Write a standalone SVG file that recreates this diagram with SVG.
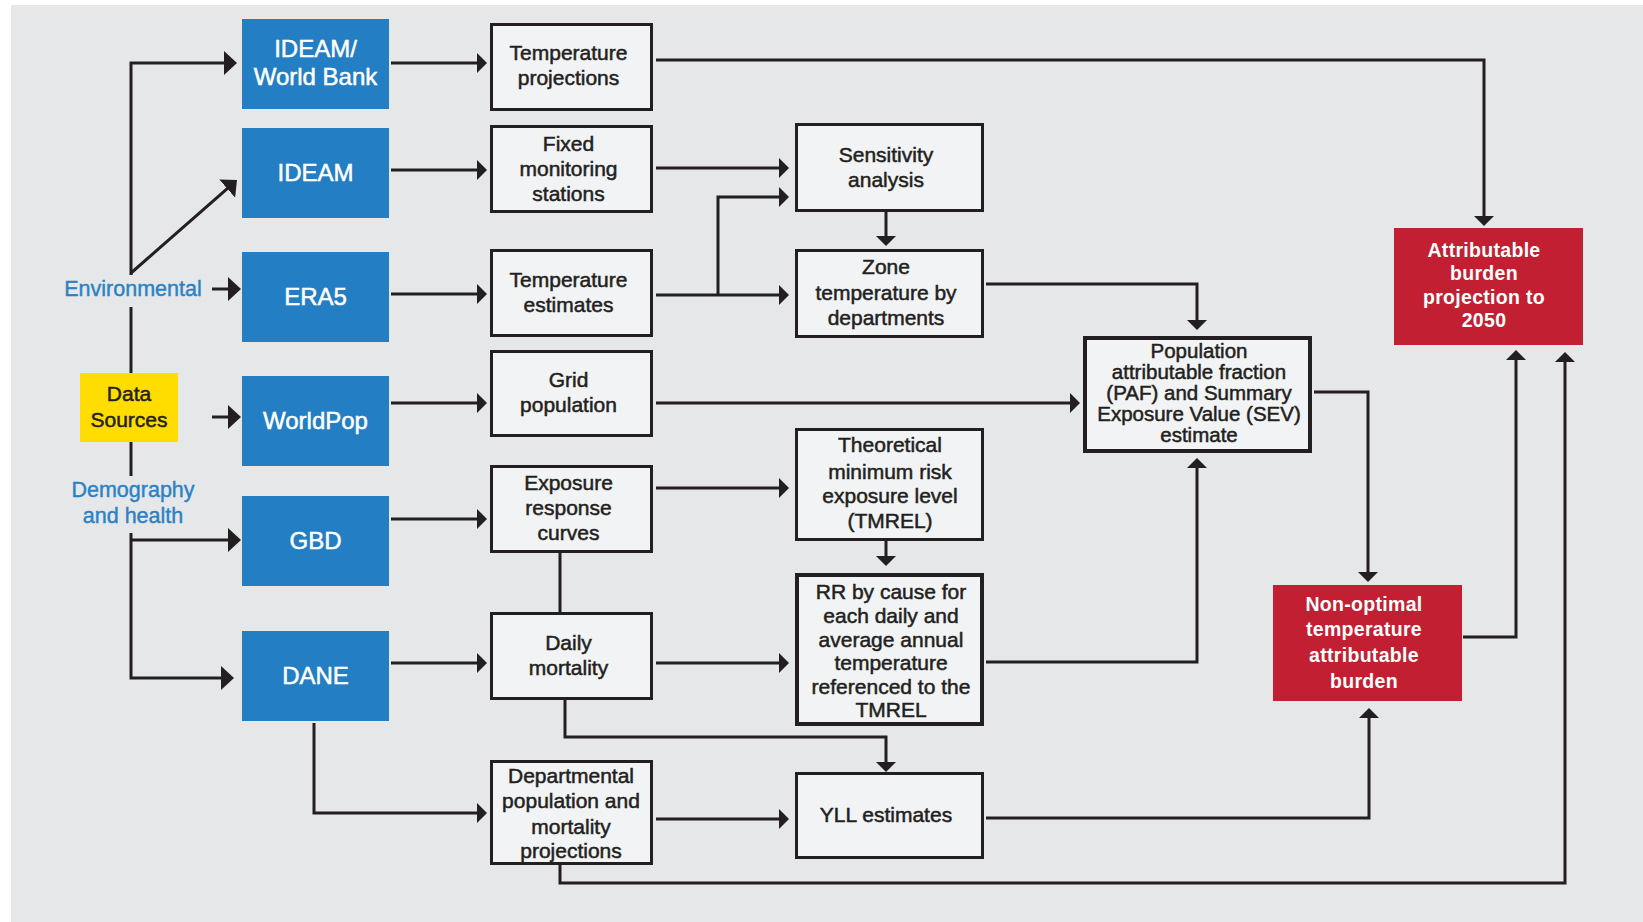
<svg xmlns="http://www.w3.org/2000/svg" width="1643" height="922" viewBox="0 0 1643 922">
<style>
.bg{fill:#e6e7e9}
.blue{fill:#237ec3}
.wbox{fill:#f2f3f5;stroke:#231f20;stroke-width:3}
.wbox4{fill:#f2f3f5;stroke:#231f20;stroke-width:4}
.red{fill:#c22032}
.yel{fill:#ffdd00}
.ln{fill:none;stroke:#231f20;stroke-width:3}
.lnb{fill:none;stroke:#231f20;stroke-width:3;marker-end:url(#big)}
.lnm{fill:none;stroke:#231f20;stroke-width:3;marker-end:url(#med)}
text{font-family:"Liberation Sans",Arial,sans-serif;text-anchor:middle}
.tw{fill:#ffffff;stroke:#ffffff;stroke-width:0.5px;font-size:24px}
.tk{fill:#231f20;stroke:#231f20;stroke-width:0.5px;font-size:21px}
.tp{fill:#231f20;stroke:#231f20;stroke-width:0.5px;font-size:20.5px}
.tr{fill:#ffffff;font-size:19.5px;font-weight:bold;letter-spacing:0.3px}
.tb{fill:#2a82c5;stroke:#2a82c5;stroke-width:0.4px;font-size:21.5px}
.ty{fill:#231f20;stroke:#231f20;stroke-width:0.5px;font-size:21px}
</style>
<defs>
<marker id="big" markerUnits="userSpaceOnUse" markerWidth="13" markerHeight="24" viewBox="0 0 13 24" refX="2" refY="12" orient="auto"><path d="M0,0 L13,12 L0,24 Z" fill="#231f20"/></marker>
<marker id="med" markerUnits="userSpaceOnUse" markerWidth="10" markerHeight="20" viewBox="0 0 10 20" refX="2" refY="10" orient="auto"><path d="M0,0 L10,10 L0,20 Z" fill="#231f20"/></marker>
</defs>
<rect x="0" y="0" width="1643" height="922" fill="#ffffff"/>
<rect class="bg" x="11" y="5" width="1632" height="917"/>

<g id="connectors">
<path class="lnb" d="M131,275 V63 H226"/>
<path class="lnb" d="M131,273 L228.7,187.3"/>
<path class="lnb" d="M212,289 H230"/>
<path class="ln" d="M131,307 V373"/>
<path class="lnb" d="M212,417 H230"/>
<path class="ln" d="M131,442 V476"/>
<path class="lnb" d="M131,533 V678 H223"/>
<path class="lnb" d="M131,540 H230"/>
<path class="lnm" d="M391,63 H479"/>
<path class="lnm" d="M391,170 H479"/>
<path class="lnm" d="M391,294 H479"/>
<path class="lnm" d="M391,403 H479"/>
<path class="lnm" d="M391,519 H479"/>
<path class="lnm" d="M391,663 H479"/>
<path class="lnm" d="M314,723 V813 H479"/>
<path class="lnm" d="M656,168 H781"/>
<path class="lnm" d="M656,295 H781"/>
<path class="lnm" d="M718,295 V197 H781"/>
<path class="lnm" d="M656,488 H781"/>
<path class="lnm" d="M656,663 H781"/>
<path class="lnm" d="M656,819 H781"/>
<path class="lnm" d="M886,212 V238"/>
<path class="lnm" d="M886,541 V558"/>
<path class="ln" d="M560,553 V612"/>
<path class="lnm" d="M565,700 V737 H886 V764"/>
<path class="lnm" d="M656,60 H1484 V218"/>
<path class="lnm" d="M986,284 H1197 V322"/>
<path class="lnm" d="M656,403 H1072"/>
<path class="lnm" d="M986,662 H1197 V466"/>
<path class="lnm" d="M1314,392 H1368 V574"/>
<path class="lnm" d="M986,818 H1369 V716"/>
<path class="lnm" d="M1463,637 H1516 V358"/>
<path class="lnm" d="M560,865 V883 H1565 V360"/>
</g>

<g id="label-environmental"><text class="tb" x="133" y="296">Environmental</text></g>
<g id="label-demography"><text class="tb" x="133" y="497">Demography</text><text class="tb" x="133" y="523">and health</text></g>

<g id="data-sources"><rect class="yel" x="80" y="373" width="98" height="69"/><text class="ty" x="129" y="401">Data</text><text class="ty" x="129" y="427">Sources</text></g>

<g id="ideam-wb"><rect class="blue" x="242" y="19" width="147" height="90"/><text class="tw" x="315.5" y="57">IDEAM/</text><text class="tw" x="315.5" y="85">World Bank</text></g>
<g id="ideam"><rect class="blue" x="242" y="128" width="147" height="90"/><text class="tw" x="315.5" y="181">IDEAM</text></g>
<g id="era5"><rect class="blue" x="242" y="252" width="147" height="90"/><text class="tw" x="315.5" y="305">ERA5</text></g>
<g id="worldpop"><rect class="blue" x="242" y="376" width="147" height="90"/><text class="tw" x="315.5" y="429">WorldPop</text></g>
<g id="gbd"><rect class="blue" x="242" y="496" width="147" height="90"/><text class="tw" x="315.5" y="549">GBD</text></g>
<g id="dane"><rect class="blue" x="242" y="631" width="147" height="90"/><text class="tw" x="315.5" y="684">DANE</text></g>

<g id="temp-proj"><rect class="wbox" x="491.5" y="24.5" width="160" height="85"/><text class="tk" x="568.5" y="60">Temperature</text><text class="tk" x="568.5" y="85">projections</text></g>
<g id="fixed"><rect class="wbox" x="491.5" y="126.5" width="160" height="85"/><text class="tk" x="568.5" y="151">Fixed</text><text class="tk" x="568.5" y="176">monitoring</text><text class="tk" x="568.5" y="201">stations</text></g>
<g id="temp-est"><rect class="wbox" x="491.5" y="250.5" width="160" height="85"/><text class="tk" x="568.5" y="287">Temperature</text><text class="tk" x="568.5" y="312">estimates</text></g>
<g id="grid-pop"><rect class="wbox" x="491.5" y="351.5" width="160" height="84"/><text class="tk" x="568.5" y="387">Grid</text><text class="tk" x="568.5" y="412">population</text></g>
<g id="exposure"><rect class="wbox" x="491.5" y="466.5" width="160" height="85"/><text class="tk" x="568.5" y="490">Exposure</text><text class="tk" x="568.5" y="515">response</text><text class="tk" x="568.5" y="540">curves</text></g>
<g id="daily"><rect class="wbox" x="491.5" y="613.5" width="160" height="85"/><text class="tk" x="568.5" y="650">Daily</text><text class="tk" x="568.5" y="675">mortality</text></g>
<g id="departmental"><rect class="wbox" x="491.5" y="761.5" width="160" height="102"/><text class="tk" x="571" y="783">Departmental</text><text class="tk" x="571" y="808">population and</text><text class="tk" x="571" y="834">mortality</text><text class="tk" x="571" y="858">projections</text></g>

<g id="sensitivity"><rect class="wbox" x="796.5" y="124.5" width="186" height="86"/><text class="tk" x="886" y="162">Sensitivity</text><text class="tk" x="886" y="187">analysis</text></g>
<g id="zone"><rect class="wbox" x="796.5" y="250.5" width="186" height="86"/><text class="tk" x="886" y="274">Zone</text><text class="tk" x="886" y="300">temperature by</text><text class="tk" x="886" y="325">departments</text></g>
<g id="tmrel"><rect class="wbox" x="796.5" y="429.5" width="186" height="110"/><text class="tk" x="890" y="452">Theoretical</text><text class="tk" x="890" y="479">minimum risk</text><text class="tk" x="890" y="503">exposure level</text><text class="tk" x="890" y="528">(TMREL)</text></g>
<g id="rr"><rect class="wbox4" x="797" y="575" width="185" height="149"/><text class="tk" x="891" y="599">RR by cause for</text><text class="tk" x="891" y="623">each daily and</text><text class="tk" x="891" y="647">average annual</text><text class="tk" x="891" y="670">temperature</text><text class="tk" x="891" y="694">referenced to the</text><text class="tk" x="891" y="717">TMREL</text></g>
<g id="yll"><rect class="wbox" x="796.5" y="773.5" width="186" height="84"/><text class="tk" x="886" y="822">YLL estimates</text></g>

<g id="paf"><rect class="wbox4" x="1085" y="338" width="225" height="113"/><text class="tp" x="1199" y="358">Population</text><text class="tp" x="1199" y="379">attributable fraction</text><text class="tp" x="1199" y="400">(PAF) and Summary</text><text class="tp" x="1199" y="421">Exposure Value (SEV)</text><text class="tp" x="1199" y="442">estimate</text></g>

<g id="attributable"><rect class="red" x="1394" y="228" width="189" height="117"/><text class="tr" x="1484" y="257">Attributable</text><text class="tr" x="1484" y="280">burden</text><text class="tr" x="1484" y="304">projection to</text><text class="tr" x="1484" y="327">2050</text></g>
<g id="non-optimal"><rect class="red" x="1273" y="585" width="189" height="116"/><text class="tr" x="1364" y="611">Non-optimal</text><text class="tr" x="1364" y="636">temperature</text><text class="tr" x="1364" y="662">attributable</text><text class="tr" x="1364" y="688">burden</text></g>
</svg>
